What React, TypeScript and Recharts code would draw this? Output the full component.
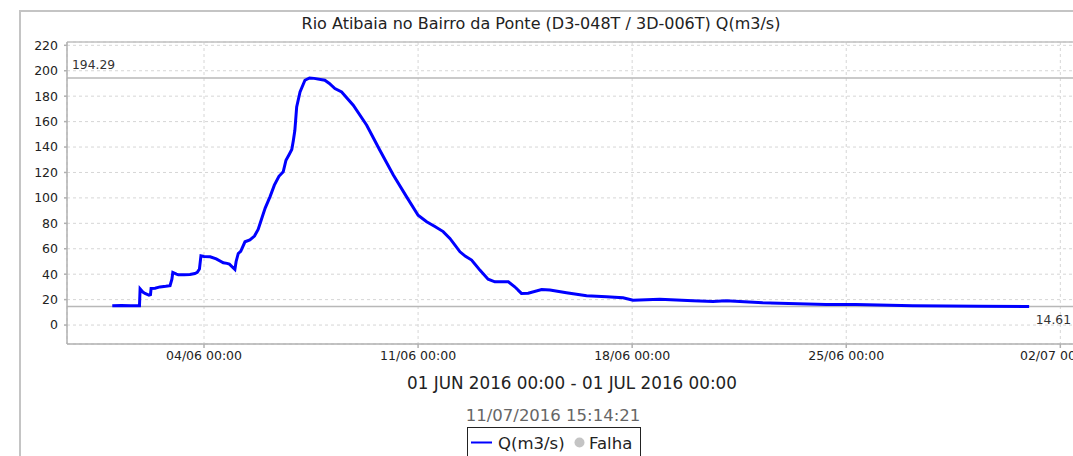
import React from 'react';
import { LineChart, Line, XAxis, YAxis, CartesianGrid, ReferenceLine } from 'recharts';

// Days since 01 JUN 2016 00:00
const days = [
  0, 0.3, 0.6, 0.89, 0.91, 1.0, 1.07, 1.2, 1.25, 1.27, 1.4, 1.56, 1.75, 1.89, 1.95, 1.98,
  2.1, 2.16, 2.35, 2.54, 2.7, 2.78, 2.85, 2.9, 3.0, 3.2, 3.4, 3.63, 3.75, 3.83, 4.01, 4.05,
  4.12, 4.2, 4.34, 4.5, 4.65, 4.77, 4.89, 5.0, 5.16, 5.3, 5.45, 5.59, 5.68, 5.78, 5.87, 5.92,
  5.97, 6.03, 6.14, 6.3, 6.45, 6.6, 6.95, 7.1, 7.28, 7.5, 7.88, 8.32, 8.75, 9.19, 9.62, 10.0,
  10.28, 10.55, 10.82, 11.04, 11.2, 11.37, 11.55, 11.75, 12.02, 12.29, 12.51, 12.95, 13.16,
  13.38, 13.6, 14.04, 14.31, 14.85, 15.51, 16.16, 16.7, 17.03, 17.9, 18.99, 19.64, 20.07,
  21.27, 23.34, 24.32, 26.17, 28.35, 29.98,
];
const flows = [
  15.2, 15.4, 15.2, 15.2, 28.5, 26, 24.9, 23.6, 24, 28.8, 29, 30, 30.5, 31, 36, 41.4,
  40, 39.5, 39.5, 39.8, 40.5, 41.4, 44, 54.5, 54, 53.7, 52, 49, 48.5, 47.9, 43.7, 50,
  56.3, 58, 65.5, 67, 70, 75.2, 84, 92, 101, 110, 117, 120.5, 129.6, 134, 138, 145,
  153, 171.5, 183.3, 192.5, 194.29, 194, 192.5, 190, 186, 183.3, 172.9, 157.1, 137.5, 118, 101, 86.4,
  81.2, 77.5, 73.5, 68.1, 63, 57.6, 54, 51.1, 43.2, 36.1, 34, 34, 30.1,
  24.9, 25, 28, 27.5, 25.4, 23, 22.2, 21.5, 19.6, 20.2, 19.1, 18.5, 19.1,
  17.5, 16.2, 16.2, 15.2, 14.8, 14.61,
];

const xTicks = [3, 10, 17, 24, 31];
const xTickLabels = ['04/06 00:00', '11/06 00:00', '18/06 00:00', '25/06 00:00', '02/07 00:00'];
const yTicks = [0, 20, 40, 60, 80, 100, 120, 140, 160, 180, 200, 220];
const maxValue = 194.29;
const minValue = 14.61;

const title = 'Rio Atibaia no Bairro da Ponte (D3-048T / 3D-006T) Q(m3/s)';
const period = '01 JUN 2016 00:00 - 01 JUL 2016 00:00';
const stamp = '11/07/2016 15:14:21';
const seriesName = 'Q(m3/s)';
const failName = 'Falha';

const data = days.map((d, i) => ({ day: d, q: flows[i] }));

const FONT = '"DejaVu Sans", sans-serif';

const RefLabel = (props: any) => {
  const vb = props.viewBox || {};
  const { text, side } = props;
  if (side === 'left') {
    return (
      <text x={vb.x + 5} y={vb.y - 9} fontSize={12.3} fill="#333" fontFamily={FONT} textAnchor="start">
        {text}
      </text>
    );
  }
  return (
    <text x={vb.x + vb.width - 4} y={vb.y + 18} fontSize={12.3} fill="#333" fontFamily={FONT} textAnchor="end">
      {text}
    </text>
  );
};

export default function App() {
  return (
    <div
      style={{
        position: 'fixed',
        left: 8,
        top: 8,
        width: 1065,
        height: 448,
        overflow: 'hidden',
        fontFamily: FONT,
        background: '#fff',
      }}
    >
      <div
        style={{
          position: 'absolute',
          left: 11,
          top: 2,
          right: -40,
          bottom: -40,
          borderTop: '2px solid #c4c4c4',
          borderLeft: '2px solid #c4c4c4',
        }}
      />
      <div style={{ position: 'absolute', left: 0, top: 0 }}>
        <LineChart width={1080} height={470} data={data} margin={{ top: 34, right: 13, bottom: 104, left: 0 }}>
          <CartesianGrid stroke="#d6d6d6" strokeDasharray="3 3" />
          <XAxis
            type="number"
            dataKey="day"
            domain={[-1.48, 31.48]}
            ticks={xTicks}
            allowDataOverflow
            tickFormatter={(v: number) => xTickLabels[xTicks.indexOf(v)] ?? ''}
            height={30}
            stroke="#b0b0b0"
            strokeWidth={1.5}
            tickSize={4}
            tickMargin={3}
            tick={{ fill: '#222', fontSize: 12.5, fontFamily: FONT }}
          />
          <YAxis
            type="number"
            domain={[-14.9, 222.6]}
            ticks={yTicks}
            allowDataOverflow
            width={59}
            stroke="#b0b0b0"
            strokeWidth={1.5}
            tickSize={3}
            tickMargin={6}
            tick={{ fill: '#222', fontSize: 12.5, fontFamily: FONT }}
          />
          <ReferenceLine y={222.6} stroke="#c0c0c0" strokeWidth={1.5} ifOverflow="visible" />
          <ReferenceLine
            y={maxValue}
            stroke="#b8b8b8"
            strokeWidth={1.5}
            label={<RefLabel text={maxValue.toFixed(2)} side="left" />}
          />
          <ReferenceLine
            y={minValue}
            stroke="#b8b8b8"
            strokeWidth={1.5}
            label={<RefLabel text={minValue.toFixed(2)} side="right" />}
          />
          <Line
            type="linear"
            dataKey="q"
            stroke="#0000ff"
            strokeWidth={3}
            dot={false}
            isAnimationActive={false}
          />
        </LineChart>
      </div>
      <svg width={1065} height={448} style={{ position: 'absolute', left: 0, top: 0, pointerEvents: 'none' }}>
        <text x={533} y={21} fontSize={16} fill="#222" textAnchor="middle" fontFamily={FONT}>
          {title}
        </text>
        <text x={564} y={381} fontSize={16.8} fill="#222" textAnchor="middle" fontFamily={FONT}>
          {period}
        </text>
        <text x={545} y={412.5} fontSize={16.5} fill="#666" textAnchor="middle" fontFamily={FONT}>
          {stamp}
        </text>
        <rect x={459.5} y={419.5} width={173} height={60} fill="none" stroke="#222" strokeWidth={1} />
        <line x1={463} x2={484} y1={434.5} y2={434.5} stroke="#0000ff" strokeWidth={2} />
        <text x={490} y={440.5} fontSize={16.5} fill="#222" fontFamily={FONT}>
          {seriesName}
        </text>
        <circle cx={571.5} cy={434.5} r={5} fill="#c4c4c4" />
        <text x={581} y={440.5} fontSize={16.5} fill="#222" fontFamily={FONT}>
          {failName}
        </text>
      </svg>
    </div>
  );
}
